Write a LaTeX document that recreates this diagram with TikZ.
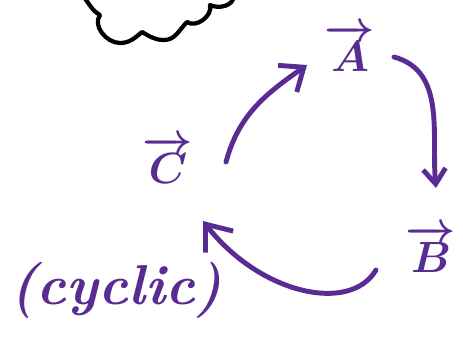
\documentclass[tikz,border=0pt]{standalone}
\usepackage{tikz}
\usepackage{amsmath, amssymb}
\usetikzlibrary{arrows.meta,calc}
\definecolor{ink}{RGB}{88,44,146}

\begin{document}
\begin{tikzpicture}[x=0.02cm,y=0.02cm,
	pen/.style={ink, line width=2.8pt, line cap=round, line join=round},
	vecname/.style={ink, font=\fontsize{42}{42}\selectfont\boldmath, inner sep=0pt},
	cloudline/.style={black, line width=2.4pt, line join=round}]
	\useasboundingbox (0,0) rectangle (463,344);
	
	% cloud, cut by the top edge
	\draw[cloudline] (83,348) to[out=-50,in=150] (100,329)
		to[out=-125,in=180] (120,301) to[out=0,in=-140] (142,312)
		to[out=-30,in=180] (164,304) to[out=0,in=-135] (187,322)
		to[out=-35,in=-75] (210,339) to[out=-25,in=-95] (234,348);
	
	\node[vecname] (A) at (350,296) {$\overrightarrow{A}$};
	\node[vecname] (B) at (431,95) {$\overrightarrow{B}$};
	\node[vecname] (C) at (168,184) {$\overrightarrow{C}$};
	\node[ink, font=\fontsize{32}{32}\selectfont\itshape\bfseries, inner sep=0pt] (cyc) at (116,54) {(cyclic)};
	
	\draw[pen, -{Straight Barb[length=4mm,width=6.5mm]}] ($(C)+(58,-2)$) to[out=75,in=215] ($(A)+(-43,-17)$);
	\draw[pen, -{Straight Barb[length=3mm,width=4.5mm]}] ($(A)+(44,-9)$) to[out=-15,in=95] ($(B)+(5,61)$);
	\draw[pen, -{Straight Barb[length=4.5mm,width=7mm]}] ($(B)+(-55,-21)$) .. controls (350,30) and (260,50) .. ($(C)+(35,-61)$);
\end{tikzpicture}
\end{document}
